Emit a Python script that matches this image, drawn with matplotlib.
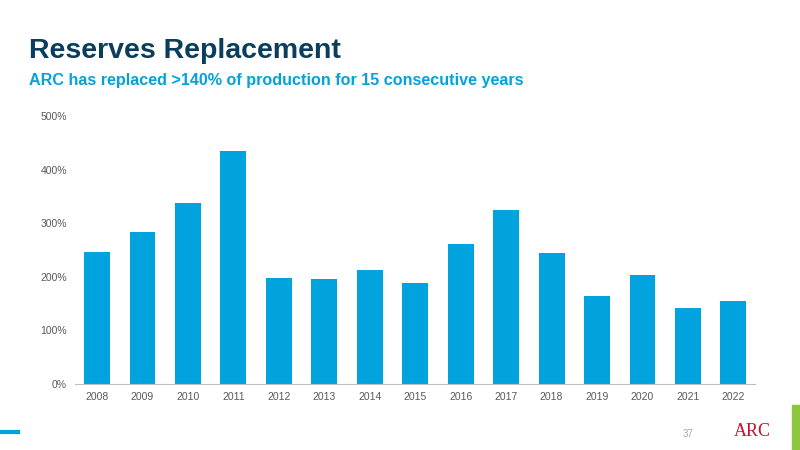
import matplotlib
matplotlib.use("Agg")
import matplotlib.pyplot as plt
from matplotlib.ticker import FuncFormatter

years = ["2008","2009","2010","2011","2012","2013","2014","2015","2016","2017","2018","2019","2020","2021","2022"]
values = [246, 284, 338, 435, 197, 195, 213, 189, 261, 324, 245, 164, 203, 142, 154]
yticks = [0, 100, 200, 300, 400, 500]

plt.rcParams['font.family'] = ['Liberation Sans', 'DejaVu Sans']
fig = plt.figure(figsize=(8, 4.5), dpi=100)
ax = fig.add_axes([0.094, 0.147, 0.85, 0.595])
ax.bar(range(len(years)), values, width=0.57, color="#00A3DD", zorder=2)
ax.set_xlim(-0.48, len(years) - 0.52)
ax.set_ylim(0, 500)
ax.set_yticks(yticks)
ax.yaxis.set_major_formatter(FuncFormatter(lambda v, p: f"{int(v)}%"))
ax.set_xticks(range(len(years)))
ax.set_xticklabels(years)
ax.tick_params(axis='both', length=0, labelsize=7.5, colors="#595959", pad=6)
for s in ["top", "right", "left"]:
    ax.spines[s].set_visible(False)
ax.spines["bottom"].set_color("#BFBFBF")

fig.text(0.036, 0.87, "Reserves Replacement", fontsize=20.5, fontweight="bold", color="#0B3D5C")
fig.text(0.036, 0.81, "ARC has replaced >140% of production for 15 consecutive years", fontsize=11.6, fontweight="bold", color="#00A3DD")
fig.text(0.86, 0.028, "37", fontsize=7, color="#A6A6A6", ha="center")
fig.text(0.94, 0.03, "ARC", fontsize=13, color="#C8102E", ha="center", family="Liberation Serif")
fig.add_artist(plt.Line2D([0, 0.022], [0.04, 0.04], color="#00A3DD", lw=3))
fig.add_artist(plt.Rectangle((0.99, 0.0), 0.01, 0.1, color="#8DC63F"))
fig.savefig("out.png", dpi=100)
